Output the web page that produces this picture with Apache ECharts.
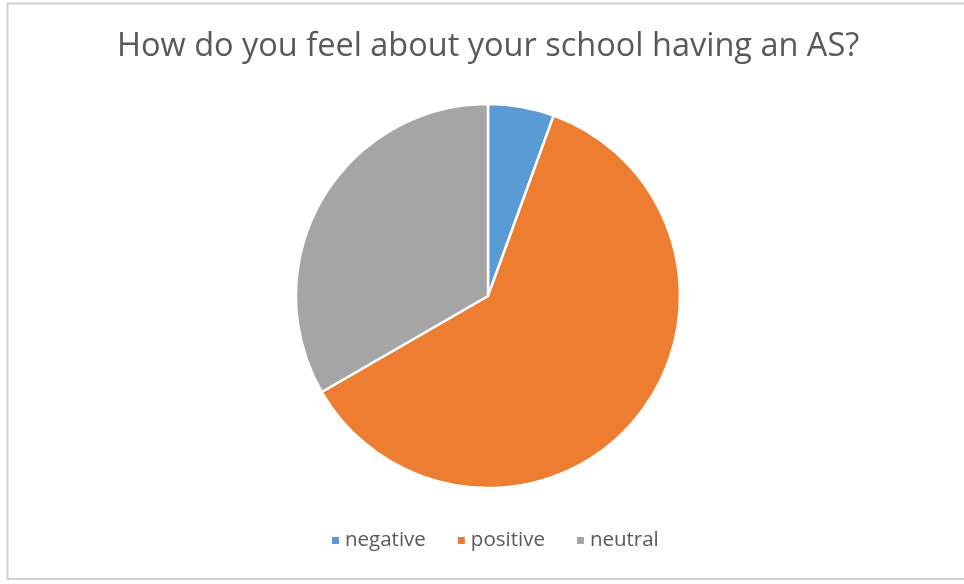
<!DOCTYPE html>
<html><head><meta charset="utf-8">
<script src="https://cdn.jsdelivr.net/npm/echarts@6/dist/echarts.min.js"></script>
<style>html,body{margin:0;padding:0;background:#fff}#c{width:964px;height:584px}</style>
</head><body><div id="c"></div>
<script>
const titleText = "How do you feel about your school having an AS?";
const categories = ["negative", "positive", "neutral"];
const values = [1, 11, 6];
const colors = ["#5B9BD5", "#ED7D31", "#A5A5A5"];

const chart = echarts.init(document.getElementById('c'));
chart.setOption({
  animation: false,
  color: colors,
  title: {
    text: titleText, left: 112, top: 25,
    textStyle: {fontFamily: 'Open Sans', fontSize: 32.5, fontWeight: 'normal', color: '#595959'}
  },
  legend: {
    data: categories, bottom: 28, left: 325, icon: 'rect', itemWidth: 9, itemHeight: 9, itemGap: 30,
    textStyle: {fontFamily: 'Open Sans', fontSize: 20.5, color: '#595959'}
  },
  graphic: [{
    type: 'rect', shape: {x: 7.5, y: 3.5, width: 970, height: 575.5},
    style: {fill: 'none', stroke: '#d0d0d0', lineWidth: 2}, silent: true
  }],
  series: [{
    type: 'pie', center: [488, 296], radius: 192, startAngle: 90, clockwise: true,
    label: {show: false}, labelLine: {show: false},
    itemStyle: {borderColor: '#fff', borderWidth: 2.5},
    data: categories.map((c, i) => ({name: c, value: values[i]}))
  }]
});
</script></body></html>
